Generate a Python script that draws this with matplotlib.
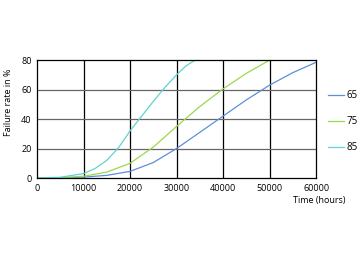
import matplotlib
matplotlib.use("Agg")
import matplotlib.pyplot as plt

t_65 = [0, 5000, 10000, 15000, 20000, 25000, 30000, 35000, 40000, 45000, 50000, 55000, 60000]
rate_65 = [0, 0.1, 0.6, 1.8, 4.5, 10.5, 20, 31, 42, 53, 63, 71.5, 78.5]
t_75 = [0, 5000, 10000, 15000, 20000, 25000, 30000, 35000, 40000, 45000, 50000]
rate_75 = [0, 0.2, 1.2, 4, 10, 21, 35, 48.5, 60.5, 71, 80]
t_85 = [0, 5000, 10000, 12500, 15000, 17500, 20000, 22500, 25000, 27500, 30000, 32000, 34000]
rate_85 = [0, 0.5, 3, 6.5, 12, 20.5, 32, 42, 52, 61.5, 70, 76, 80]
labels = ["65", "75", "85"]
colors = ["#5b8fdc", "#9cd84c", "#62d2cf"]

plt.rcParams['font.family'] = ['Open Sans', 'DejaVu Sans']
fig = plt.figure(figsize=(3.6, 2.62), dpi=100)
ax = fig.add_axes([0.103, 0.3206, 0.775, 0.450])

for t, r, lab, c in zip([t_65, t_75, t_85], [rate_65, rate_75, rate_85], labels, colors):
    ax.plot(t, r, color=c, lw=0.9, label=lab)

ax.set_xlim(0, 60000)
ax.set_ylim(0, 80)
ax.set_xticks(range(0, 60001, 10000))
ax.set_yticks([0, 20, 40, 60, 80])
ax.tick_params(length=0, labelsize=6.5, pad=4)
for x in range(10000, 60000, 10000):
    ax.axvline(x, color="black", lw=0.9, zorder=0)
for y in [20, 40, 60]:
    ax.axhline(y, color="#666666", lw=0.9, zorder=0)
for s in ax.spines.values():
    s.set_linewidth(0.9)

ax.set_ylabel("Failure rate in %", fontsize=6.5)
ax.yaxis.set_label_coords(-0.085, 0.64)
ax.text(1.105, -0.19, "Time (hours)", transform=ax.transAxes, fontsize=6.5,
        ha="right", va="center")

fig.legend(loc="center left", bbox_to_anchor=(0.911, 0.535), frameon=False,
           fontsize=7, handlelength=1.6, handletextpad=0.3, labelspacing=1.55,
           borderpad=0, borderaxespad=0)

fig.savefig("out.png", dpi=100)
